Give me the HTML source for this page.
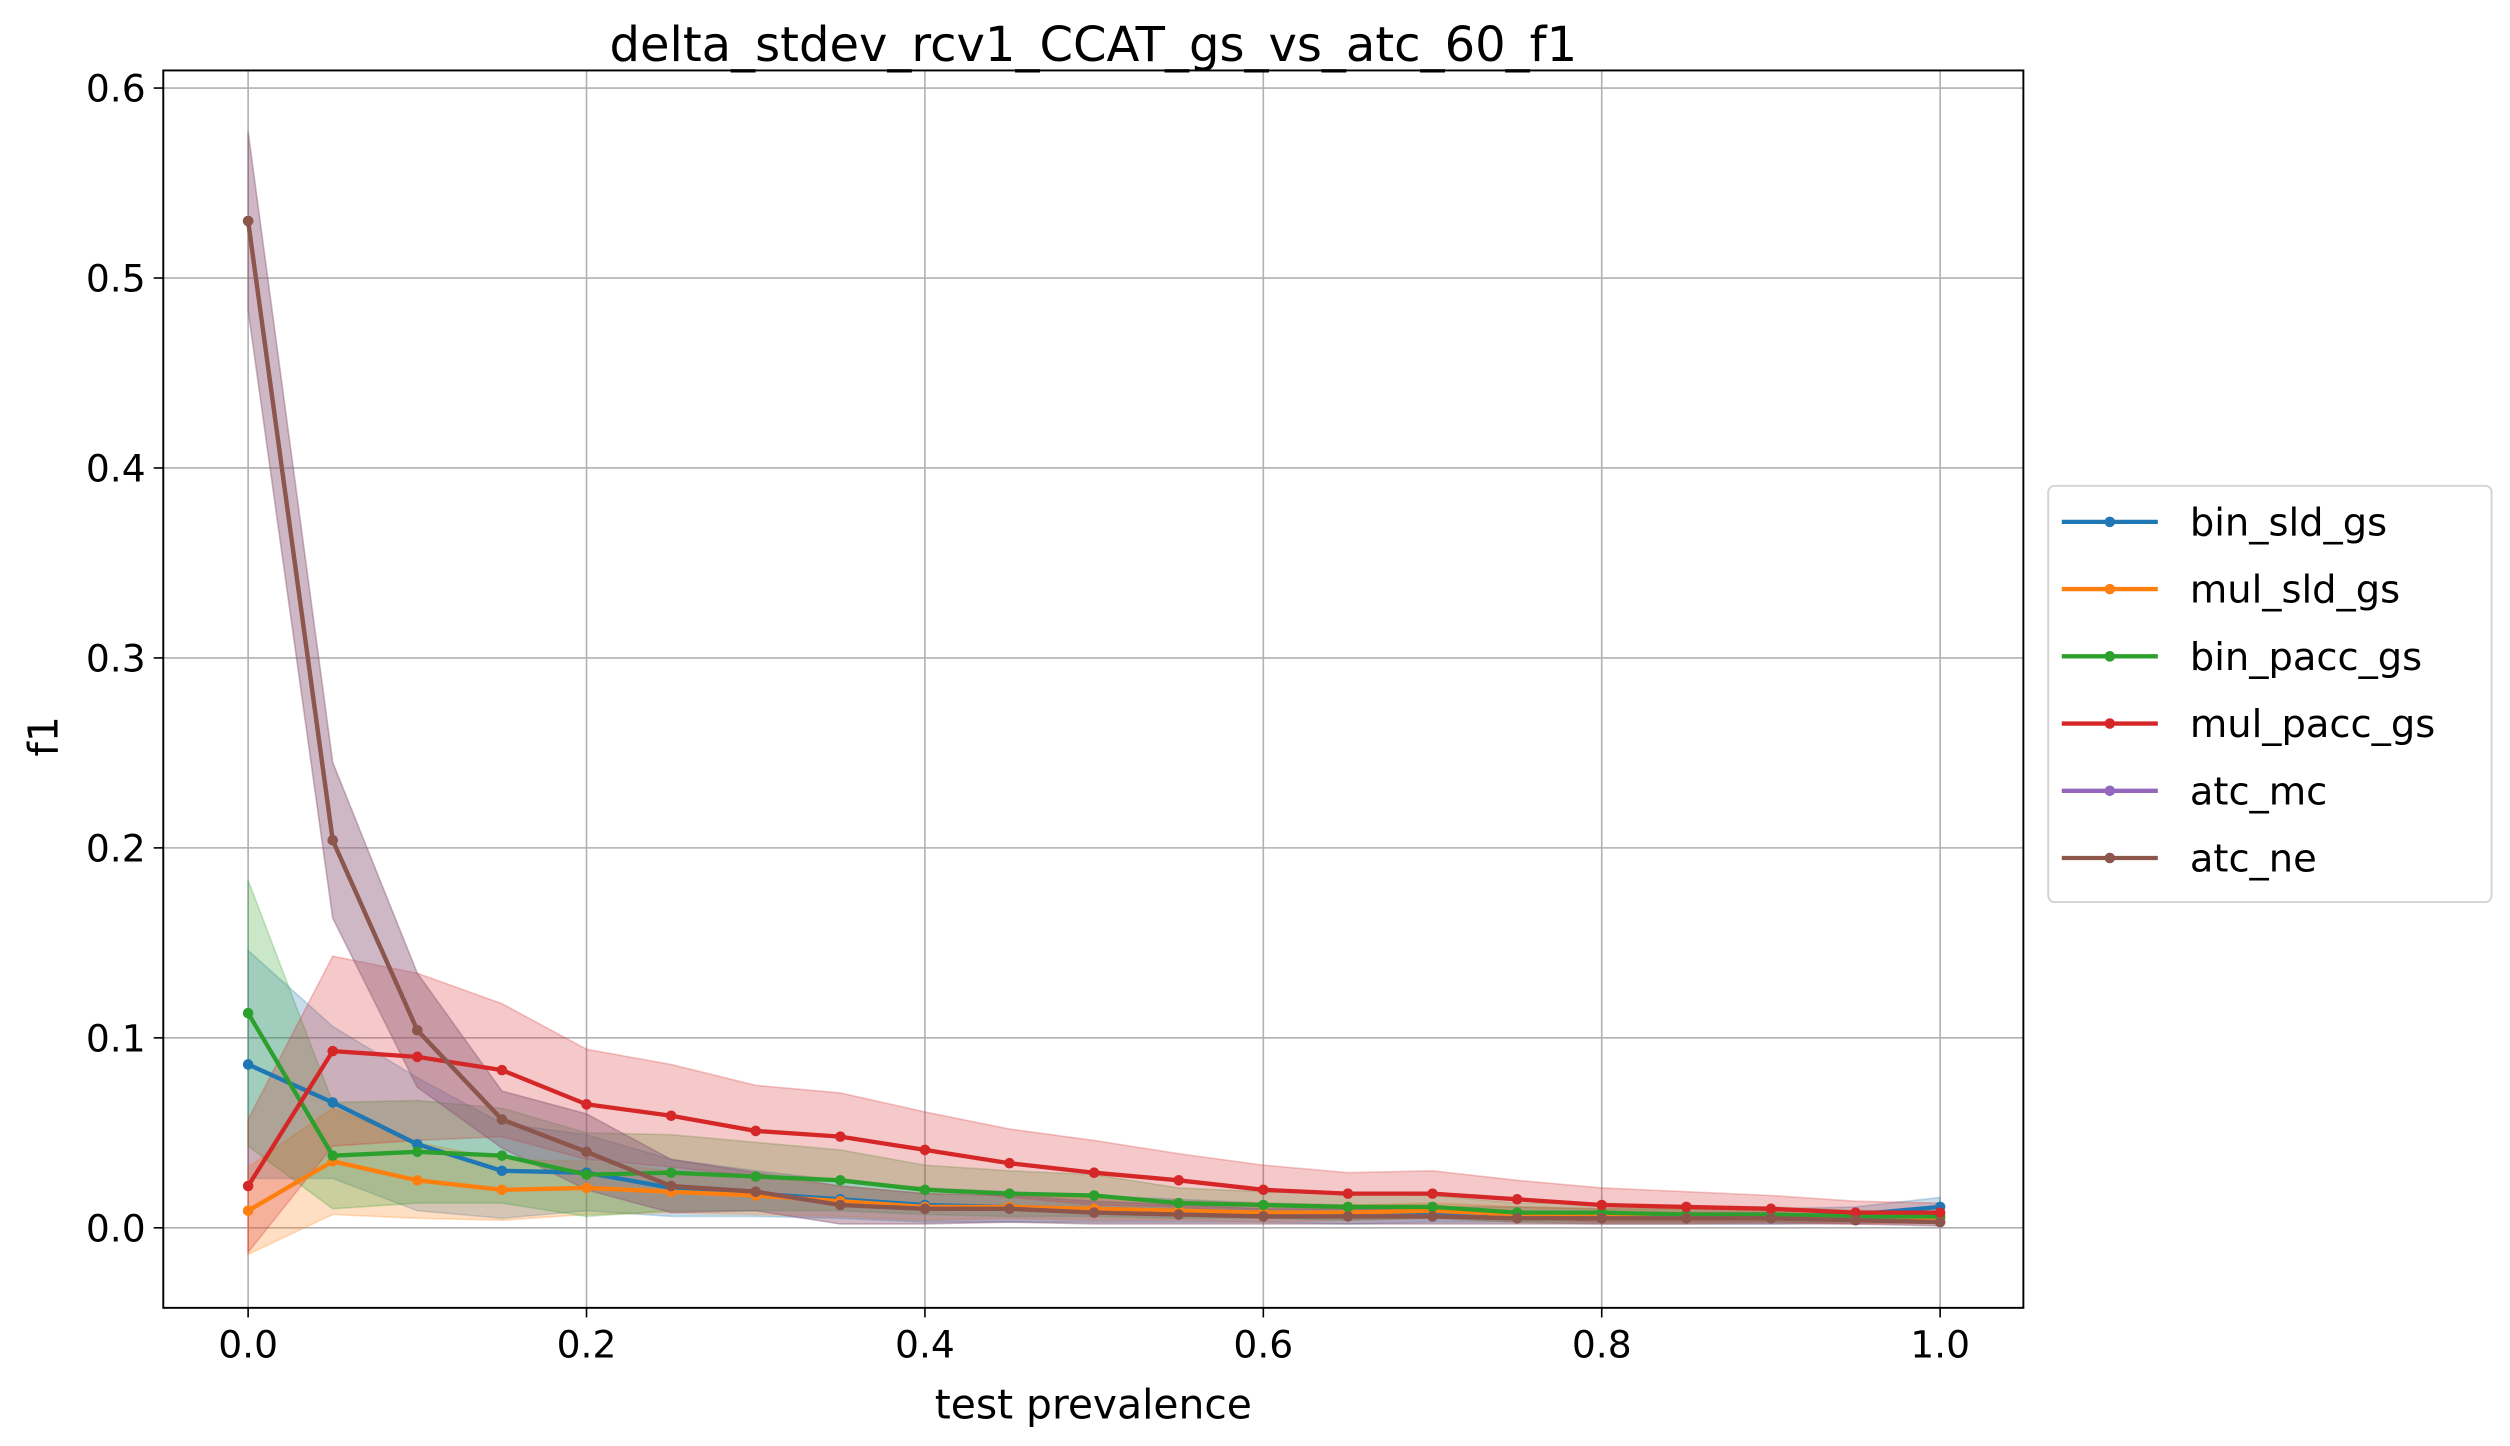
<!DOCTYPE html>
<html><head><meta charset="utf-8"><style>
html,body{margin:0;padding:0;background:#fff}
svg{display:block;font-family:"DejaVu Sans","Liberation Sans",sans-serif}
</style></head><body>
<svg id="chart" width="2510" height="1446" viewBox="0 0 1568 903.3" xmlns="http://www.w3.org/2000/svg">
<rect width="1568" height="903.3" fill="#fff"/>
<g id="grid"></g>
<g id="bands"></g>
<g id="lines"></g>
<rect x="102" y="44" width="1162" height="773" fill="none" stroke="#000" stroke-width="1.2"/>
<g id="axes"></g>
<text x="683" y="38" font-size="30" text-anchor="middle">delta_stdev_rcv1_CCAT_gs_vs_atc_60_f1</text>
<text x="683" y="886" font-size="25.5" text-anchor="middle">test prevalence</text>
<text x="0" y="0" font-size="25.5" text-anchor="middle" transform="translate(36,460) rotate(-90)">f1</text>
<g id="legend"></g>
</svg>
<script>
const xs=[0,0.05,0.1,0.15,0.2,0.25,0.3,0.35,0.4,0.45,0.5,0.55,0.6,0.65,0.7,0.75,0.8,0.85,0.9,0.95,1.0];
const seriesNames=["bin_sld_gs","mul_sld_gs","bin_pacc_gs","mul_pacc_gs","atc_mc","atc_ne"];
const colors=["#1f77b4","#ff7f0e","#2ca02c","#d62728","#9467bd","#8c564b"];
const binSld=[.086,.066,.044,.030,.029,.021,.018,.015,.012,.011,.010,.009,.008,.007,.007,.007,.006,.006,.006,.007,.011];
const mulSld=[.009,.035,.025,.020,.021,.019,.017,.014,.011,.011,.010,.009,.008,.008,.009,.007,.006,.006,.006,.005,.005];
const binPacc=[.113,.038,.040,.038,.028,.029,.027,.025,.020,.018,.017,.013,.012,.011,.011,.008,.008,.007,.007,.006,.006];
const mulPacc=[.022,.093,.090,.083,.065,.059,.051,.048,.041,.034,.029,.025,.020,.018,.018,.015,.012,.011,.010,.008,.008];
const atcMc=[.530,.204,.104,.057,.040,.022,.019,.012,.010,.010,.008,.007,.006,.006,.006,.005,.005,.005,.005,.004,.003];
const atcNe=[.530,.204,.104,.057,.040,.022,.019,.012,.010,.010,.008,.007,.006,.006,.006,.005,.005,.005,.005,.004,.003];
const binSldStd=[.06,.04,.035,.025,.02,.015,.012,.01,.009,.008,.007,.006,.005,.005,.004,.004,.004,.004,.004,.004,.005];
const mulSldStd=[.023,.028,.02,.016,.014,.011,.01,.008,.007,.006,.006,.005,.005,.004,.004,.004,.004,.004,.003,.003,.003];
const binPaccStd=[.07,.028,.027,.025,.022,.02,.018,.016,.013,.012,.011,.008,.007,.007,.006,.005,.005,.004,.004,.003,.003];
const mulPaccStd=[.035,.05,.044,.035,.029,.027,.024,.023,.02,.018,.017,.014,.013,.011,.012,.01,.009,.008,.007,.006,.005];
const atcMcStd=[.047,.041,.03,.015,.02,.014,.01,.01,.008,.007,.006,.005,.004,.004,.004,.003,.003,.003,.003,.002,.002];
const atcNeStd=[.047,.041,.03,.015,.02,.014,.01,.01,.008,.007,.006,.005,.004,.004,.004,.003,.003,.003,.003,.002,.002];
const xTicks=[0,0.2,0.4,0.6,0.8,1.0];
const xTickLabels=["0.0","0.2","0.4","0.6","0.8","1.0"];
const yTicks=[0,0.1,0.2,0.3,0.4,0.5,0.6];
const yTickLabels=["0.0","0.1","0.2","0.3","0.4","0.5","0.6"];

const means=[binSld,mulSld,binPacc,mulPacc,atcMc,atcNe];
const stds=[binSldStd,mulSldStd,binPaccStd,mulPaccStd,atcMcStd,atcNeStd];
const X=v=>155+(1212-155)*v;
const Y=v=>767-(767-55)*v/0.6;
const NS="http://www.w3.org/2000/svg";
function mk(tag,parent,attrs){const e=document.createElementNS(NS,tag);for(const k in attrs)e.setAttribute(k,attrs[k]);parent.appendChild(e);return e;}
const grid=document.getElementById('grid'),axes=document.getElementById('axes');
xTicks.forEach((t,i)=>{
  const g=mk('line',grid,{x1:X(t),x2:X(t),y1:44,y2:817,stroke:'#b0b0b0','stroke-width':1});
  
  
  const tk=mk('line',axes,{x1:X(t),x2:X(t),y1:817,y2:823,stroke:'#000','stroke-width':1});
  
  
  const tx=mk('text',axes,{x:X(t),y:848,'font-size':23.5,'text-anchor':'middle'});
  tx.textContent=xTickLabels[i];
  
  
});
yTicks.forEach((t,i)=>{
  const g=mk('line',grid,{x1:102,x2:1264,y1:Y(t),y2:Y(t),stroke:'#b0b0b0','stroke-width':1});
  
  
  const tk=mk('line',axes,{x1:96,x2:102,y1:Y(t),y2:Y(t),stroke:'#000','stroke-width':1});
  
  
  const tx=mk('text',axes,{x:91,y:Y(t)+8.5,'font-size':23.5,'text-anchor':'end'});
  tx.textContent=yTickLabels[i];
  
  
});
const bands=document.getElementById('bands'),lines=document.getElementById('lines');
means.forEach((m,s)=>{
  const up=xs.map((x,i)=>X(x)+','+Y(m[i]+stds[s][i]));
  const lo=xs.map((x,i)=>X(x)+','+Y(m[i]-stds[s][i])).reverse();
  const b=mk('polygon',bands,{points:up.concat(lo).join(' '),fill:colors[s],'fill-opacity':0.25,stroke:colors[s],'stroke-opacity':0.25,'stroke-width':1});
  
  
});
means.forEach((m,s)=>{
  const g=mk('g',lines,{});
  
  
  mk('polyline',g,{points:xs.map((x,i)=>X(x)+','+Y(m[i])).join(' '),fill:'none',stroke:colors[s],'stroke-width':2.7});
  xs.forEach((x,i)=>{
    const c=mk('circle',g,{cx:X(x),cy:Y(m[i]),r:3.3,fill:colors[s]});
    
    
  });
});
const lg=document.getElementById('legend');
const box=mk('rect',lg,{x:1279.5,y:303.5,width:277,height:260,rx:4,fill:'#fff','fill-opacity':0.8,stroke:'#d3d3d3','stroke-width':1.2});


seriesNames.forEach((n,s)=>{
  const yy=326+s*42;
  const g=mk('g',lg,{});
  
  
  mk('line',g,{x1:1288,x2:1348,y1:yy,y2:yy,stroke:colors[s],'stroke-width':2.7});
  mk('circle',g,{cx:1318,cy:yy,r:3.3,fill:colors[s]});
  const t=mk('text',g,{x:1368,y:yy+8.5,'font-size':24});
  t.textContent=n;
});
</script>
</body></html>
